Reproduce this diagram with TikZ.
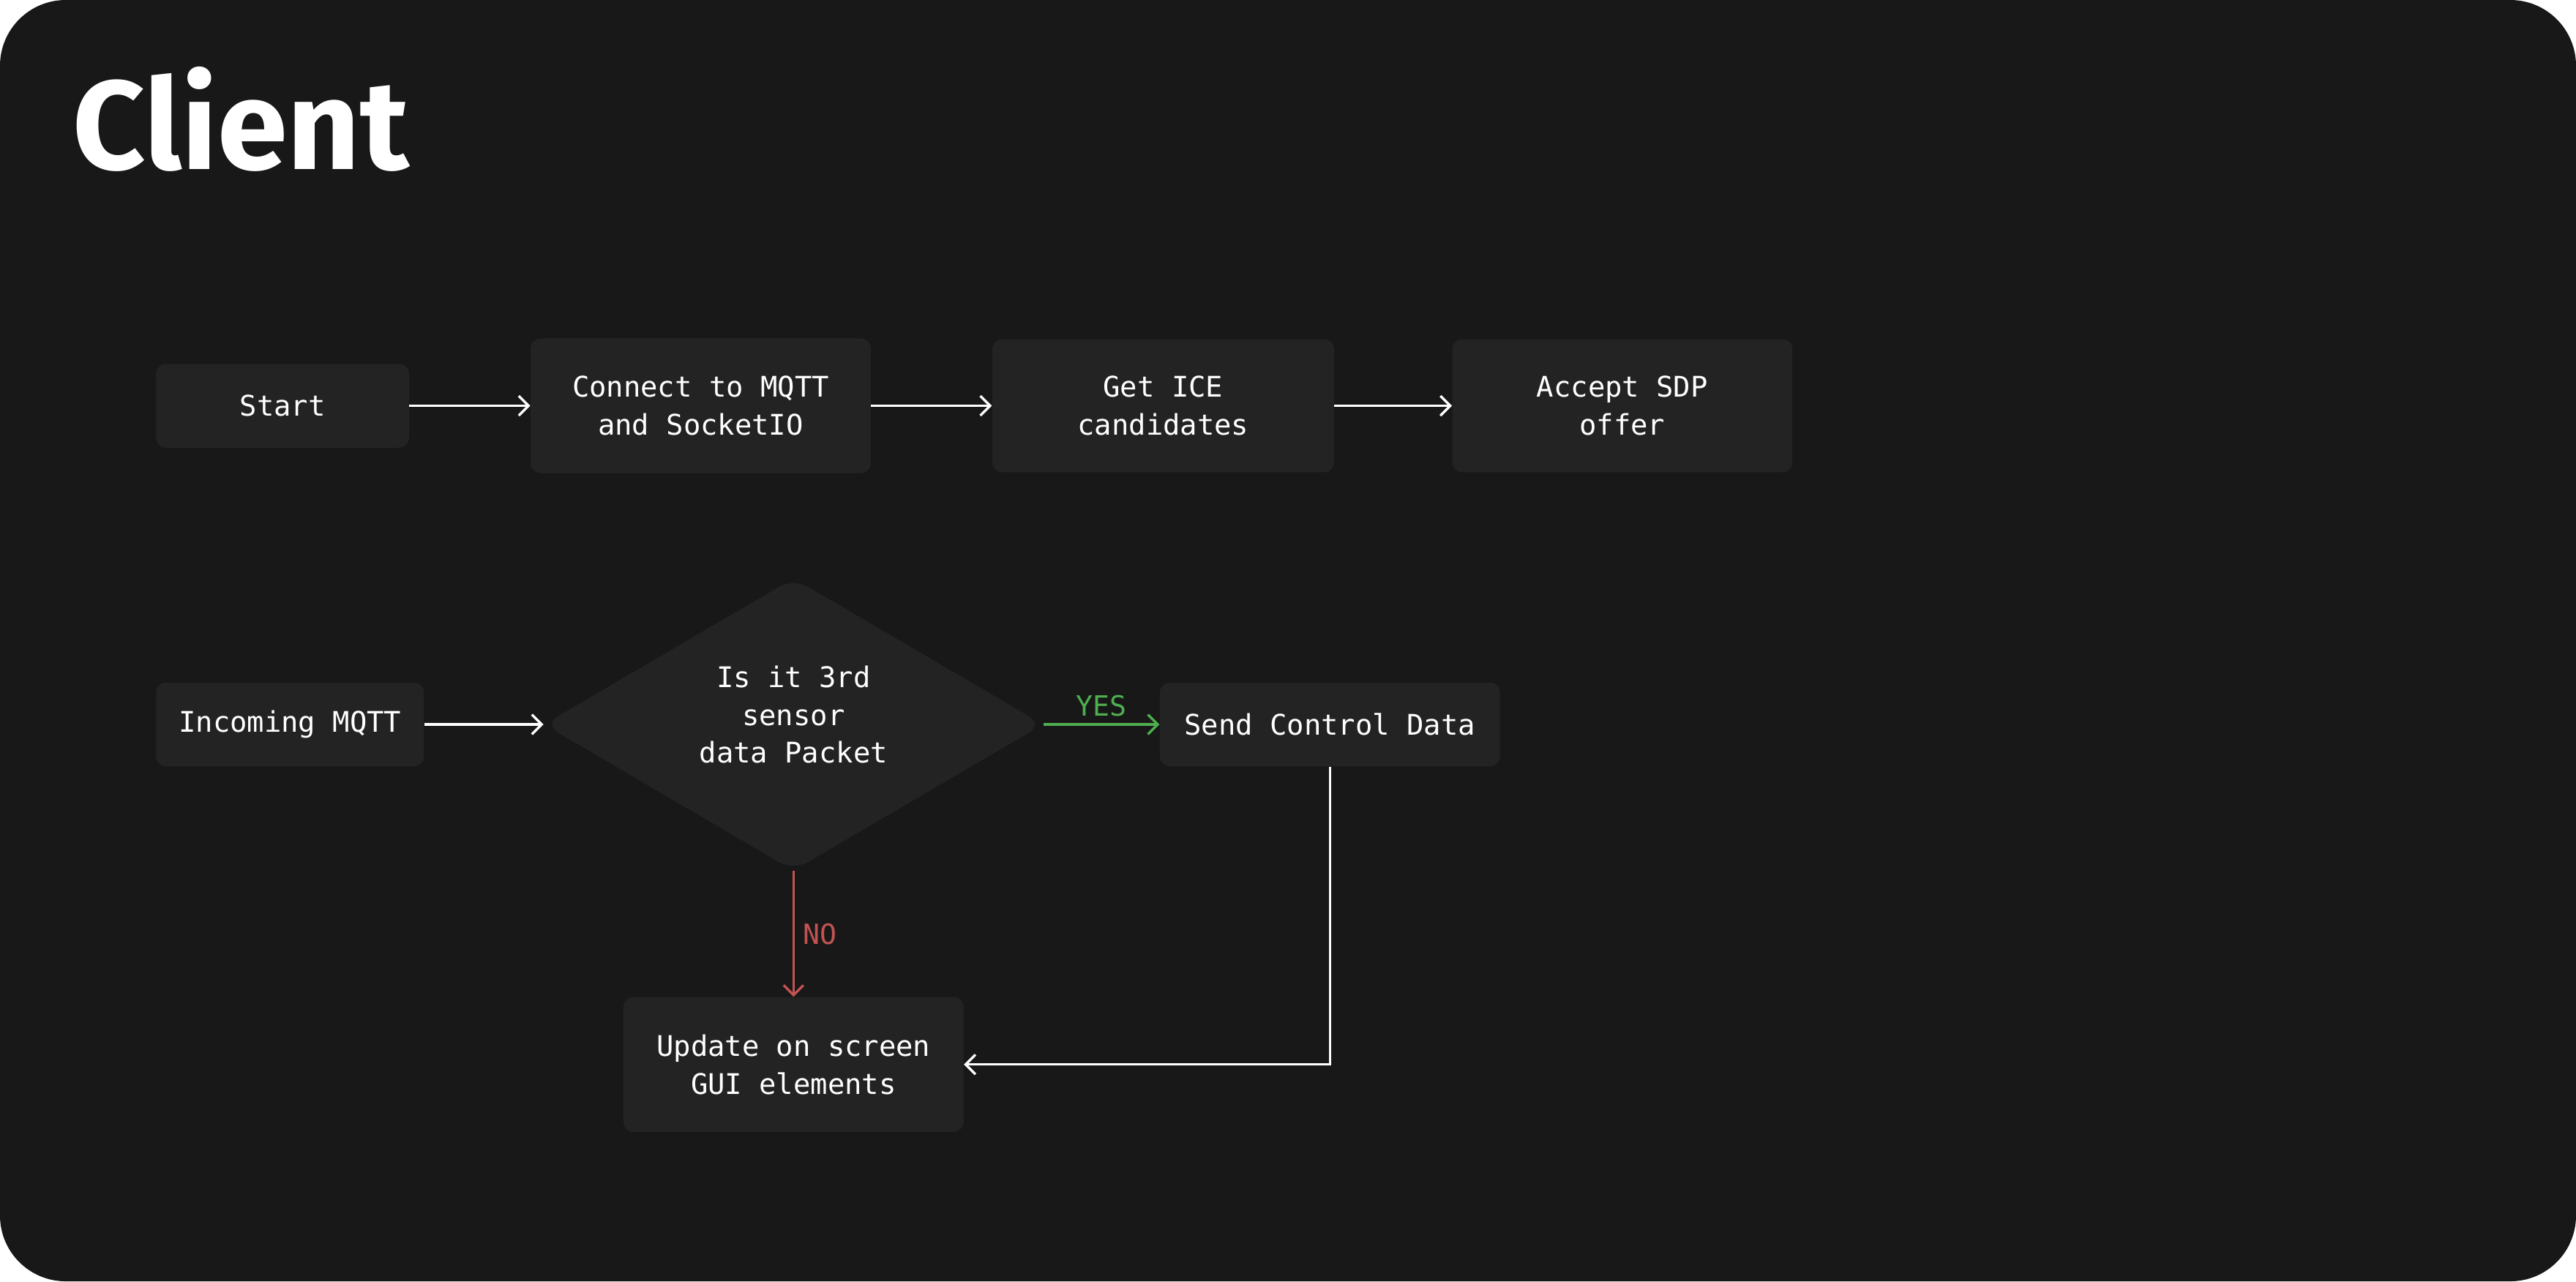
\documentclass[tikz,border=0pt]{standalone}
\usepackage{fontspec}
\setmonofont{DejaVu Sans Mono}
\newfontfamily\titlefont{Fira Sans}
\usetikzlibrary{shapes.geometric,arrows.meta}
\definecolor{bgc}{HTML}{181818}
\definecolor{boxc}{HTML}{232323}
\definecolor{yesc}{HTML}{4FAE50}
\definecolor{noc}{HTML}{C25352}
\tikzset{
  x=1pt,y=-1pt,
  box/.style={fill=boxc,rounded corners=6pt,text=white,font=\ttfamily\fontsize{17.3}{23}\selectfont,align=center,inner sep=0pt},
  conn/.style={draw=white,line width=1.5pt,-{Straight Barb[length=6pt,width=12pt,line width=1.5pt]}},
  lbl/.style={font=\ttfamily\fontsize{17}{20}\selectfont}
}
\begin{document}
\begin{tikzpicture}
\useasboundingbox (0,0) rectangle (1568,780);
\fill[bgc,rounded corners=40pt] (0,0) rectangle (1568,780);
\node[anchor=base west,text=white,inner sep=0pt,font=\titlefont\bfseries\fontsize{77}{80}\selectfont] (title) at (44,103) {Client};
\node[box,minimum width=154pt,minimum height=51pt] (start) at (172,247) {Start};
\node[box,minimum width=207pt,minimum height=82pt] (mqtt) at (426.5,247) {Connect to MQTT\\and SocketIO};
\node[box,minimum width=208pt,minimum height=81pt] (ice) at (708,247) {Get ICE\\candidates};
\node[box,minimum width=207pt,minimum height=81pt] (sdp) at (987.5,247) {Accept SDP\\offer};
\node[box,minimum width=163pt,minimum height=51pt] (inc) at (176.5,441) {Incoming MQTT};
\node[box,diamond,rounded corners=10pt,minimum width=304pt,minimum height=178pt,aspect=1.72] (dec) at (483,441) {};
\node[box,fill=none] (dect) at (483,435) {Is it 3rd\\sensor\\data Packet};
\node[box,minimum width=207pt,minimum height=51pt] (send) at (809.5,441) {Send Control Data};
\node[box,minimum width=207pt,minimum height=82pt] (upd) at (483,648) {Update on screen\\GUI elements};
\draw[conn] (start) -- (mqtt);
\draw[conn] (mqtt) -- (ice);
\draw[conn] (ice) -- (sdp);
\draw[conn] (inc) -- (dec);
\draw[conn,draw=yesc] (dec.east) -- node[lbl,text=yesc,above=1pt] {YES} (send.west);
\draw[conn,draw=noc,line width=1.2pt] (dec.south) -- node[lbl,text=noc,right=2pt] {NO} (upd.north);
\draw[conn] (send.south) |- (upd.east);
\end{tikzpicture}
\end{document}
